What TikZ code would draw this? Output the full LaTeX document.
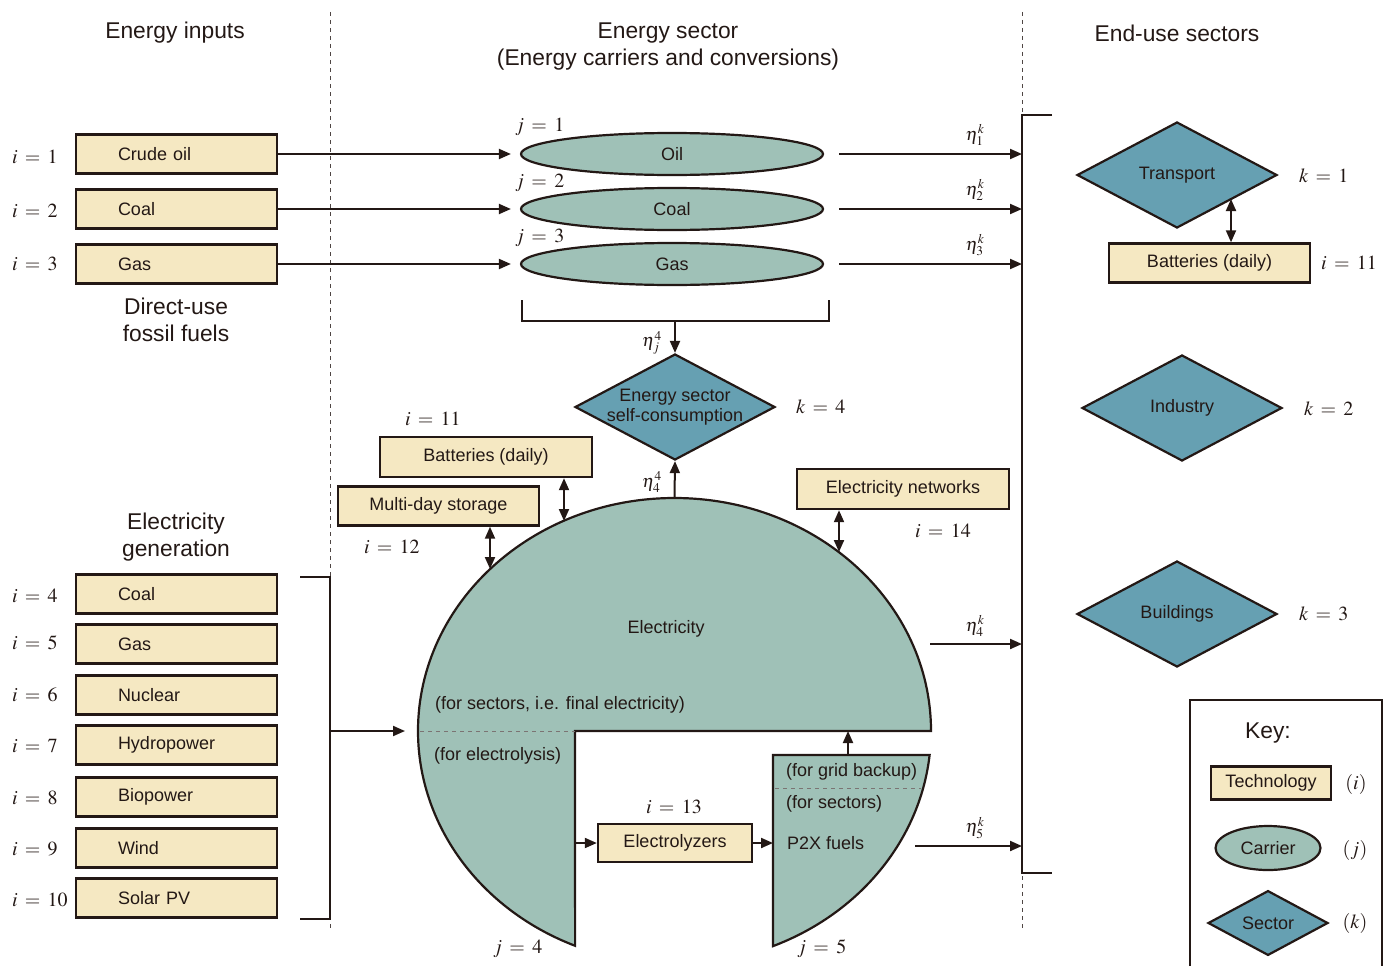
\documentclass[tikz,border=0pt]{standalone}
\usepackage{mathptmx}
\usepackage{fontspec}
\setmainfont{Liberation Sans}
\usetikzlibrary{shapes.geometric,arrows.meta}

\definecolor{ink}{HTML}{231815}
\definecolor{techfill}{HTML}{F5E8C2}
\definecolor{carrierfill}{HTML}{9FC1B7}
\definecolor{sectorfill}{HTML}{66A0B2}

\newcommand{\idxfont}{\fontsize{20}{22}\selectfont\thickmuskip=6.5mu\relax}

\tikzset{
  tech/.style={draw=ink, line width=2.4pt, fill=techfill, minimum height=39pt, inner sep=0pt, font=\fontsize{18}{21}\selectfont},
  techl/.style={tech, text width=117pt, inner xsep=42pt, align=left},
  carrier/.style={draw=ink, line width=2.2pt, fill=carrierfill, ellipse, minimum width=302pt, minimum height=42pt, inner sep=0pt, font=\fontsize{18}{21}\selectfont},
  sector/.style={draw=ink, line width=2.2pt, fill=sectorfill, diamond, minimum width=200pt, minimum height=106pt, inner sep=0pt, font=\fontsize{18}{21}\selectfont},
  idx/.style={font=\idxfont, inner sep=0pt, anchor=west},
  eff/.style={font=\fontsize{18}{20}\selectfont, inner sep=0pt},
  head/.style={font=\fontsize{22.8}{27}\selectfont, align=center, inner sep=0pt},
  lbl/.style={font=\fontsize{18}{21}\selectfont, inner sep=0pt, anchor=west},
  arr/.style={draw=ink, line width=2pt, -{Triangle[length=12pt,width=10pt]}},
  dbl/.style={draw=ink, line width=2pt, {Triangle[length=12pt,width=10pt]}-{Triangle[length=12pt,width=10pt]}},
  sep/.style={draw=ink!80, line width=0.8pt, dash pattern=on 4pt off 4pt},
}

\begin{document}
\begin{tikzpicture}[x=1pt, y=-1pt, every node/.style={text=ink}]
    \useasboundingbox (0,0) rectangle (1391,966);

    % column separators
    \draw[sep] (330,12) -- (330,930);
    \draw[sep] (1022,12) -- (1022,930);

    % headings
    \node[head] (hin) at (175,33) {Energy inputs};
    \node[head] (hes) at (668,47) {Energy sector\\(Energy carriers and conversions)};
    \node[head] (heu) at (1177,33) {End-use sectors};
    \node[head] (hdir) at (176,320) {Direct-use\\fossil fuels};
    \node[head] (hgen) at (176,537) {Electricity\\generation};

    % direct-use fossil fuels
    \node[techl] (crude) at (176.5,154) {Crude oil};
    \node[techl] (fcoal) at (176.5,209) {Coal};
    \node[techl] (fgas) at (176.5,264) {Gas};
    \node[idx] (i1) at (12,157) {$i=1$};
    \node[idx] (i2) at (12,211) {$i=2$};
    \node[idx] (i3) at (12,264) {$i=3$};

    % electricity generation
    \node[techl] (gcoal) at (176.5,594) {Coal};
    \node[techl] (ggas) at (176.5,644) {Gas};
    \node[techl] (gnuc) at (176.5,695) {Nuclear};
    \node[techl] (ghyd) at (176.5,745) {Hydropower};
    \node[techl] (gbio) at (176.5,797) {Biopower};
    \node[techl] (gwind) at (176.5,848) {Wind};
    \node[techl] (gpv) at (176.5,898) {Solar PV};
    \node[idx] (i4) at (12,596) {$i=4$};
    \node[idx] (i5) at (12,643) {$i=5$};
    \node[idx] (i6) at (12,695) {$i=6$};
    \node[idx] (i7) at (12,746) {$i=7$};
    \node[idx] (i8) at (12,798) {$i=8$};
    \node[idx] (i9) at (12,849) {$i=9$};
    \node[idx] (i10) at (12,900) {$i=10$};

    % carriers j = 1..3
    \node[carrier] (oil) at (672,154) {Oil};
    \node[carrier] (coal) at (672,209) {Coal};
    \node[carrier] (gas) at (672,264) {Gas};
    \node[idx] (j1) at (515,127) {$j=1$};
    \node[idx] (j2) at (515,183) {$j=2$};
    \node[idx] (j3) at (515,238) {$j=3$};

    \draw[arr, shorten >=9pt] (crude) -- (oil);
    \draw[arr, shorten >=9pt] (fcoal) -- (coal);
    \draw[arr, shorten >=9pt] (fgas) -- (gas);

    % end-use bar
    \coordinate (bartop) at (1022,115);
    \coordinate (barbot) at (1022,873);
    \draw[ink, line width=2pt] (1052,115) -- (bartop) -- (barbot) -- (1052,873);

    \draw[arr, shorten <=15pt] (oil.east) -- (oil.east -| bartop);
    \draw[arr, shorten <=15pt] (coal.east) -- (coal.east -| bartop);
    \draw[arr, shorten <=15pt] (gas.east) -- (gas.east -| bartop);
    \node[eff] (e1) at (975,135) {$\eta_1^k$};
    \node[eff] (e2) at (975,190) {$\eta_2^k$};
    \node[eff] (e3) at (975,245) {$\eta_3^k$};

    % self-consumption
    \coordinate (brk) at (675,321);
    \draw[ink, line width=2pt] (522,300) -- (522,321) -- (829,321) -- (829,300);
    \node[sector] (esc) at (675,407) {};
    \node[align=center, font=\fontsize{18}{20}\selectfont, inner sep=0pt] (esctxt) at (esc) {Energy sector\\self-consumption};
    \node[idx] (k4) at (796,407) {$k=4$};
    \draw[arr] (brk) -- (esc.north);
    \node[eff] (ej4) at (652,343) {$\eta_j^4$};

    % electricity carrier j = 4
    \draw[ink, line width=2.2pt, fill=carrierfill]
      (931,731) arc[start angle=0, end angle=-247.2, x radius=256.5, y radius=233]
      -- (575,731) -- cycle;
    \draw[sep, draw=ink!60] (420,731) -- (575,731);
    \node[font=\fontsize{18}{21}\selectfont] (elec) at (666,629) {Electricity};
    \node[lbl] (fsec) at (435,705) {(for sectors, i.e. final electricity)};
    \node[lbl] (fely) at (434,756) {(for electrolysis)};
    \node[idx] (j4) at (493,949) {$j=4$};

    % P2X fuels j = 5
    \draw[ink, line width=2.2pt, fill=carrierfill]
      (773,755) -- (929.6,755) arc[start angle=5.91, end angle=67.4, x radius=256.5, y radius=233]
      -- cycle;
    \draw[sep, draw=ink!60] (775,788) -- (921,788);
    \node[lbl] (fgrid) at (786,772) {(for grid backup)};
    \node[lbl] (fsec2) at (786,804) {(for sectors)};
    \node[lbl] (p2x) at (787,843) {P2X fuels};
    \node[idx] (j5) at (797,949) {$j=5$};

    % storage, networks, electrolyzers
    \node[tech, minimum width=212pt, minimum height=40pt] (bat) at (486,457) {Batteries (daily)};
    \node[tech, minimum width=201pt] (mds) at (438.5,506) {Multi-day storage};
    \node[tech, minimum width=212pt, minimum height=40pt] (net) at (903,489) {Electricity networks};
    \node[tech, minimum width=154pt, minimum height=38pt] (ely) at (675,843) {Electrolyzers};
    \node[idx] (i11) at (405,419) {$i=11$};
    \node[idx] (i12) at (364,547) {$i=12$};
    \node[idx] (i14) at (915,531) {$i=14$};
    \node[idx] (i13) at (646,807) {$i=13$};

    \coordinate (ebat) at (564,521);
    \coordinate (emds) at (490,569);
    \coordinate (enet) at (839,552);
    \draw[dbl] (ebat |- bat.south) -- (ebat);
    \draw[dbl] (emds |- mds.south) -- (emds);
    \draw[dbl] (enet |- net.south) -- (enet);

    \coordinate (eltop) at (674.5,498);
    \draw[arr] (eltop) -- (esc.south);
    \node[eff] (e44) at (652,482) {$\eta_4^4$};

    \coordinate (elyin) at (575,843);
    \coordinate (p2xin) at (773,843);
    \draw[arr] (elyin) -- (ely.west);
    \draw[arr] (ely.east) -- (p2xin);
    \draw[arr] (848,755) -- (848,731);

    % generation bracket
    \coordinate (genout) at (330,731);
    \coordinate (elw) at (418,731);
    \draw[ink, line width=2pt] (300,577) -- (330,577) -- (330,919) -- (300,919);
    \draw[arr, shorten >=13pt] (genout) -- (elw);

    % electricity to sectors
    \coordinate (eout) at (930,644);
    \coordinate (pout) at (915,846);
    \draw[arr] (eout) -- (eout -| bartop);
    \draw[arr] (pout) -- (pout -| bartop);
    \node[eff] (e4) at (975,626) {$\eta_4^k$};
    \node[eff] (e5) at (975,828) {$\eta_5^k$};

    % end-use sectors
    \node[sector] (trans) at (1177,175) {Transport};
    \node[sector] (ind) at (1182,408) {Industry};
    \node[sector] (bld) at (1177,614) {Buildings};
    \node[tech, minimum width=201pt] (bat2) at (1209.5,263) {Batteries (daily)};
    \node[idx] (k1) at (1299,176) {$k=1$};
    \node[idx] (k2) at (1304,409) {$k=2$};
    \node[idx] (k3) at (1299,614) {$k=3$};
    \node[idx] (i11b) at (1321,263) {$i=11$};
    \coordinate (tb) at (1231,199);
    \draw[dbl] (tb) -- (tb |- bat2.north);

    % key
    \draw[ink, line width=2pt] (1190,966) -- (1190,700) -- (1382,700) -- (1382,966);
    \node[head] (key) at (1268,733) {Key:};
    \node[tech, minimum width=120pt, minimum height=33pt] (ktech) at (1271,783) {Technology};
    \node[carrier, minimum width=105pt, minimum height=44pt] (kcar) at (1268,848) {Carrier};
    \node[sector, minimum width=120pt, minimum height=53pt] (ksec) at (1268,923) {Sector};
    \node[eff, font=\fontsize{20}{22}\selectfont] (ki) at (1356,784) {$(i)$};
    \node[eff, font=\fontsize{20}{22}\selectfont] (kj) at (1355,850) {$(j)$};
    \node[eff, font=\fontsize{20}{22}\selectfont] (kk) at (1355,923) {$(k)$};
\end{tikzpicture}
\end{document}
